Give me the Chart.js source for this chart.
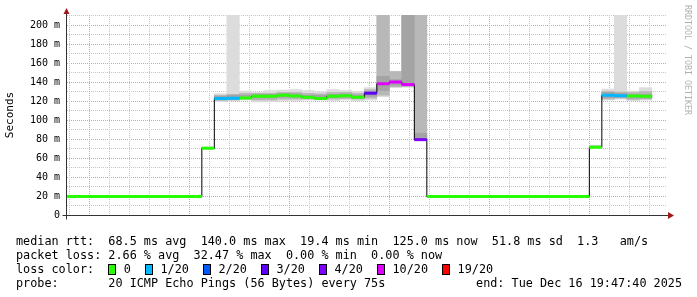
<!DOCTYPE html>
<html>
<head>
<meta charset="utf-8">
<script src="https://cdn.jsdelivr.net/npm/chart.js@4.4.1/dist/chart.umd.min.js"></script>
<style>
  body { margin: 0; background: #fff; }
  #wrap { position: relative; width: 697px; height: 297px; overflow: hidden; background: #fff; }
  #chart { position: absolute; left: 0; top: 0; }
  .leg { position: absolute; left: 16px; font-family: 'DejaVu Sans Mono', monospace; font-size: 11.8px; line-height: 14px; white-space: pre; color: #000; }
  .box { display: inline-block; width: 8px; height: 11px; box-sizing: border-box; border: 1px solid #000; vertical-align: -2px; margin-right: 7.4px; }
  .credit { position: absolute; left: 683px; top: 5px; writing-mode: vertical-rl; font-family: 'DejaVu Sans Mono', monospace; font-size: 8.3px; color: #b0b0b0; white-space: pre; }
</style>
</head>
<body>
<div id="wrap">
  <canvas id="chart" width="697" height="297"></canvas>
  <div class="credit">RRDTOOL / TOBI OETIKER</div>
  <div class="leg" style="top:234px">median rtt:  68.5 ms avg  140.0 ms max  19.4 ms min  125.0 ms now  51.8 ms sd  1.3   am/s</div>
  <div class="leg" style="top:248px">packet loss: 2.66 % avg  32.47 % max  0.00 % min  0.00 % now</div>
  <div class="leg" id="losslegend" style="top:262px"></div>
  <div class="leg" style="top:276px">probe:       20 ICMP Echo Pings (56 Bytes) every 75s</div>
  <div class="leg" style="top:276px; left:auto; right:15px">end: Tue Dec 16 19:47:40 2025</div>
</div>
<script>
'use strict';

// probe step and the 60 minute window ending at endTime
const stepSeconds = 75;
const endTime = '19:47:40';
const spanMinutes = 60;

// start of each 75s column
const times = [
  '18:47:30', '18:48:45', '18:50:00', '18:51:15', '18:52:30', '18:53:45', '18:55:00', '18:56:15',
  '18:57:30', '18:58:45', '19:00:00', '19:01:15', '19:02:30', '19:03:45', '19:05:00', '19:06:15',
  '19:07:30', '19:08:45', '19:10:00', '19:11:15', '19:12:30', '19:13:45', '19:15:00', '19:16:15',
  '19:17:30', '19:18:45', '19:20:00', '19:21:15', '19:22:30', '19:23:45', '19:25:00', '19:26:15',
  '19:27:30', '19:28:45', '19:30:00', '19:31:15', '19:32:30', '19:33:45', '19:35:00', '19:36:15',
  '19:37:30', '19:38:45', '19:40:00', '19:41:15', '19:42:30', '19:43:45', '19:45:00'
];

// median rtt (ms)
const median = [
  19.5, 19.4, 19.5, 19.6, 19.5, 19.4, 19.5, 19.5, 19.6, 19.5, 19.5,
  70.2, 122.6, 122.8, 123.2, 125.0, 125.0, 126.0, 125.3, 123.9, 122.6, 125.0, 125.6, 124.0, 128.2, 138.2, 140.0, 137.4, 79.3,
  19.5, 19.4, 19.5, 19.5, 19.6, 19.5, 19.4, 19.5, 19.5, 19.6, 19.5, 19.5, 19.5,
  71.4, 126.0, 125.6, 125.3, 125.0
];

// lost pings out of 20
const loss = [
  0, 0, 0, 0, 0, 0, 0, 0, 0, 0, 0,
  0, 1, 1, 0, 0, 0, 0, 0, 0, 0, 0, 0, 0, 3, 10, 10, 10, 4,
  0, 0, 0, 0, 0, 0, 0, 0, 0, 0, 0, 0, 0,
  0, 1, 1, 0, 0
];

// smoke: outer spread of the pings
const smokeMin = [
  19.2, 19.1, 19.2, 19.3, 19.2, 19.1, 19.2, 19.2, 19.3, 19.2, 19.2,
  69.6, 119.3, 120.0, 121.0, 119.0, 119.5, 120.0, 120.0, 121.0, 121.0, 120.0, 121.0, 120.0, 121.0, 124.5, 134.0, 134.5, 78.5,
  19.2, 19.1, 19.2, 19.2, 19.3, 19.2, 19.1, 19.2, 19.2, 19.3, 19.2, 19.2, 19.2,
  70.6, 121.0, 122.0, 120.5, 121.0
];
const smokeMax = [
  20.0, 19.8, 19.9, 20.1, 20.0, 19.8, 19.9, 20.0, 20.2, 19.9, 20.0,
  71.8, 127.7, 230, 130.5, 129.0, 131.0, 131.5, 132.0, 131.0, 129.5, 132.0, 131.0, 130.0, 134.0, 230, 151.0, 230, 230,
  20.0, 19.8, 19.9, 20.0, 20.1, 19.9, 19.8, 20.0, 19.9, 20.1, 20.0, 19.9, 20.0,
  73.5, 132.5, 230, 130.5, 134.0
];
// middle band
const smokeQ1 = [
  19.4, 19.3, 19.4, 19.5, 19.4, 19.3, 19.4, 19.4, 19.5, 19.4, 19.4,
  69.9, 120.5, 121.0, 122.0, 121.0, 121.0, 122.0, 122.0, 122.0, 121.5, 122.0, 122.5, 122.0, 123.0, 126.0, 135.0, 135.0, 79.0,
  19.4, 19.3, 19.4, 19.4, 19.5, 19.4, 19.3, 19.4, 19.4, 19.5, 19.4, 19.4, 19.4,
  71.0, 122.0, 123.0, 121.5, 122.0
];
const smokeQ3 = [
  19.7, 19.6, 19.7, 19.8, 19.7, 19.6, 19.7, 19.7, 19.8, 19.7, 19.7,
  71.2, 126.0, 127.0, 128.0, 128.0, 128.0, 129.0, 129.0, 128.0, 127.5, 129.0, 129.0, 128.0, 132.0, 230, 151.0, 230, 230,
  19.7, 19.6, 19.7, 19.7, 19.8, 19.7, 19.6, 19.7, 19.7, 19.8, 19.7, 19.7, 19.7,
  72.8, 130.0, 129.5, 129.0, 130.0
];
// dense core
const smokeCoreLo = [
  19.5, 19.4, 19.5, 19.6, 19.5, 19.4, 19.5, 19.5, 19.6, 19.5, 19.5,
  70.0, 121.5, 122.0, 122.5, 123.0, 123.0, 124.0, 124.0, 123.0, 122.5, 123.5, 124.0, 123.0, 125.0, 131.0, 136.5, 136.0, 79.5,
  19.5, 19.4, 19.5, 19.5, 19.6, 19.5, 19.4, 19.5, 19.5, 19.6, 19.5, 19.5, 19.5,
  71.0, 123.5, 124.0, 123.0, 123.0
];
const smokeCoreHi = [
  19.6, 19.5, 19.6, 19.7, 19.6, 19.5, 19.6, 19.6, 19.7, 19.6, 19.6,
  70.8, 125.0, 126.0, 126.0, 127.0, 127.0, 128.0, 127.5, 126.0, 126.0, 127.0, 127.5, 126.0, 130.0, 146.0, 142.5, 230, 86.0,
  19.6, 19.5, 19.6, 19.6, 19.7, 19.6, 19.5, 19.6, 19.6, 19.7, 19.6, 19.6, 19.6,
  72.0, 129.0, 128.0, 127.0, 127.0
];

// loss colour thresholds
const lossLevels = [0, 1, 2, 3, 4, 10, 19];
const lossLabels = ['0', '1/20', '2/20', '3/20', '4/20', '10/20', '19/20'];
const lossColors = ['#26ff00', '#00b8ff', '#0059ff', '#5e00ff', '#7e00ff', '#dd00ff', '#ff0000'];

const yTicks = [0, 20, 40, 60, 80, 100, 120, 140, 160, 180, 200];
const yMax = 210.5;

function toMin(s) {
  const p = s.split(':').map(Number);
  return p[0] * 60 + p[1] + p[2] / 60;
}
function fmtMin(v) {
  const h = Math.floor(v / 60), m = Math.round(v % 60);
  return String(h).padStart(2, '0') + ':' + String(m).padStart(2, '0');
}
function levelIndex(l) {
  let k = 0;
  lossLevels.forEach((t, i) => { if (l >= t) k = i; });
  return k;
}

const xEnd = toMin(endTime);
const xStart = xEnd - spanMinutes;
const colStart = times.map(toMin);
const colEnd = colStart.map(t => t + stepSeconds / 60);

function band(lo, hi) {
  return times.map((t, i) => ({ x: (colStart[i] + colEnd[i]) / 2, y: [lo[i], hi[i]] }));
}

const medianLine = colStart.map((x, i) => ({ x: x, y: median[i] }));
medianLine.push({ x: colEnd[colEnd.length - 1], y: median[median.length - 1] });

const datasets = [
  { type: 'bar', data: band(smokeMin, smokeMax), backgroundColor: '#dcdcdc', order: 6 },
  { type: 'bar', data: band(smokeQ1, smokeQ3), backgroundColor: '#b8b8b8', order: 5 },
  { type: 'bar', data: band(smokeCoreLo, smokeCoreHi), backgroundColor: '#a4a4a4', order: 4 }
].map(d => Object.assign(d, { borderWidth: 0, grouped: false, barPercentage: 1, categoryPercentage: 1, clip: 0 }));

datasets.push({
  type: 'line', data: medianLine, borderColor: '#000', borderWidth: 1,
  pointRadius: 0, stepped: true, fill: false, order: 3, clip: 0
});

lossLevels.forEach((lvl, k) => {
  const pts = [];
  median.forEach((m, i) => {
    if (levelIndex(loss[i]) !== k) return;
    pts.push({ x: colStart[i], y: m }, { x: colEnd[i], y: m }, { x: colEnd[i], y: null });
  });
  if (!pts.length) return;
  datasets.push({
    type: 'line', data: pts, borderColor: lossColors[k], borderWidth: 3,
    pointRadius: 0, fill: false, spanGaps: false, order: 1, clip: 0
  });
});

// loss colour legend row
const ll = document.getElementById('losslegend');
let html = 'loss color:  ';
lossLabels.forEach((lab, i) => {
  html += '<span class="box" style="background:' + lossColors[i] + '"></span>' + lab + (i < lossLabels.length - 1 ? '  ' : '');
});
ll.innerHTML = html;

const gridMinor = 'rgb(198,198,198)';
const gridMajor = 'rgb(228,156,156)';
const tickFont = { family: 'DejaVu Sans Mono', size: 10 };

// rrdtool style dotted grid: a dot every other pixel, every 10 ms and every 2 minutes
const rrdGrid = {
  id: 'rrdGrid',
  beforeDatasetsDraw(chart) {
    const ctx = chart.ctx;
    const a = chart.chartArea;
    const xs = chart.scales.x, ys = chart.scales.y;
    const L = Math.round(a.left), R = Math.round(a.right), T = Math.round(a.top), B = Math.round(a.bottom);
    ctx.save();
    for (let v = 0; v <= ys.max; v += 10) {
      const py = Math.round(ys.getPixelForValue(v));
      ctx.fillStyle = yTicks.includes(v) ? gridMajor : gridMinor;
      for (let px = L + 1; px < R; px += 2) ctx.fillRect(px, py, 1, 1);
    }
    for (let v = Math.ceil(xs.min / 2) * 2; v <= xs.max; v += 2) {
      const px = Math.round(xs.getPixelForValue(v));
      ctx.fillStyle = v % 10 === 0 ? gridMajor : gridMinor;
      for (let py = T; py < B; py += 2) ctx.fillRect(px, py, 1, 1);
    }
    ctx.restore();
  }
};

const rrdAxes = {
  id: 'rrdAxes',
  afterDraw(chart) {
    const ctx = chart.ctx;
    const a = chart.chartArea;
    const x0 = Math.round(a.left) + 0.5;
    const y0 = Math.round(a.bottom) + 0.5;
    ctx.save();
    ctx.strokeStyle = '#333';
    ctx.lineWidth = 1;
    ctx.beginPath();
    ctx.moveTo(x0, y0 + 4);
    ctx.lineTo(x0, a.top - 2);
    ctx.moveTo(x0 - 4, y0);
    ctx.lineTo(a.right + 3, y0);
    ctx.stroke();
    ctx.fillStyle = '#a01818';
    ctx.beginPath();
    ctx.moveTo(x0 - 3, a.top - 1);
    ctx.lineTo(x0 + 3, a.top - 1);
    ctx.lineTo(x0, a.top - 7);
    ctx.closePath();
    ctx.fill();
    ctx.beginPath();
    ctx.moveTo(a.right + 2, y0 - 3.5);
    ctx.lineTo(a.right + 2, y0 + 3.5);
    ctx.lineTo(a.right + 8, y0);
    ctx.closePath();
    ctx.fill();
    ctx.restore();
  }
};

new Chart(document.getElementById('chart'), {
  type: 'line',
  data: { datasets: datasets },
  plugins: [rrdGrid, rrdAxes],
  options: {
    responsive: false,
    animation: false,
    devicePixelRatio: 1,
    events: [],
    layout: { padding: { left: 0, top: 15, right: 31, bottom: 62 } },
    plugins: { legend: { display: false }, tooltip: { enabled: false } },
    scales: {
      x: {
        type: 'linear', min: xStart, max: xEnd, offset: false,
        grid: { display: false, offset: false, drawTicks: false },
        border: { display: false },
        ticks: {
          stepSize: 2, autoSkip: false, maxRotation: 0, padding: 5, font: tickFont, color: '#000',
          callback: v => v % 10 === 0 ? fmtMin(v) : ''
        },
        afterBuildTicks: s => { s.ticks = s.ticks.filter(t => Math.abs(t.value % 2) < 1e-6); },
        afterFit: s => { s.height = 20; }
      },
      y: {
        min: 0, max: yMax,
        grid: { display: false, drawTicks: false },
        border: { display: false },
        ticks: {
          stepSize: 10, padding: 6, font: tickFont, color: '#000',
          callback: v => yTicks.includes(v) ? (v === 0 ? '0' : v + ' m') : ''
        },
        afterBuildTicks: s => { s.ticks = s.ticks.filter(t => Math.abs(t.value % 10) < 1e-6); },
        afterFit: s => { s.width = 66; },
        title: {
          display: true, text: 'Seconds', color: '#000',
          font: { family: 'DejaVu Sans Mono', size: 11 }, padding: { top: 4, bottom: 0 }
        }
      }
    }
  }
});
</script>
</body>
</html>
